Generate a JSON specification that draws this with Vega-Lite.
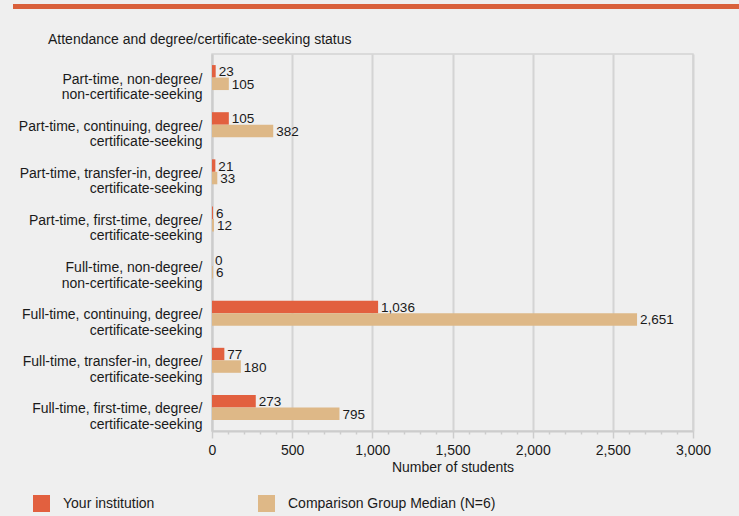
{
  "$schema": "https://vega.github.io/schema/vega-lite/v6.json",
  "background": "#efefef",
  "padding": {"left": 13, "top": 4, "right": 0, "bottom": 4},
  "width": 481,
  "height": 377,
  "config": {
    "font": "Liberation Sans",
    "legend": {"gradientHorizontalMaxLength": 800, "gradientHorizontalMinLength": 10}
  },
  "view": {"stroke": "#d4d4d4", "strokeWidth": 1.5, "fill": "#efefef"},
  "title": {
    "text": "Attendance and degree/certificate-seeking status",
    "anchor": "start",
    "frame": "bounds",
    "dx": 35,
    "fontSize": 14,
    "fontWeight": "normal",
    "color": "#1a1a1a",
    "offset": -43
  },
  "data": {
    "values": [
      {"status": "Part-time, non-degree/ non-certificate-seeking", "series": "Your institution", "value": 23},
      {"status": "Part-time, non-degree/ non-certificate-seeking", "series": "Comparison Group Median (N=6)", "value": 105},
      {"status": "Part-time, continuing, degree/ certificate-seeking", "series": "Your institution", "value": 105},
      {"status": "Part-time, continuing, degree/ certificate-seeking", "series": "Comparison Group Median (N=6)", "value": 382},
      {"status": "Part-time, transfer-in, degree/ certificate-seeking", "series": "Your institution", "value": 21},
      {"status": "Part-time, transfer-in, degree/ certificate-seeking", "series": "Comparison Group Median (N=6)", "value": 33},
      {"status": "Part-time, first-time, degree/ certificate-seeking", "series": "Your institution", "value": 6},
      {"status": "Part-time, first-time, degree/ certificate-seeking", "series": "Comparison Group Median (N=6)", "value": 12},
      {"status": "Full-time, non-degree/ non-certificate-seeking", "series": "Your institution", "value": 0},
      {"status": "Full-time, non-degree/ non-certificate-seeking", "series": "Comparison Group Median (N=6)", "value": 6},
      {"status": "Full-time, continuing, degree/ certificate-seeking", "series": "Your institution", "value": 1036},
      {"status": "Full-time, continuing, degree/ certificate-seeking", "series": "Comparison Group Median (N=6)", "value": 2651},
      {"status": "Full-time, transfer-in, degree/ certificate-seeking", "series": "Your institution", "value": 77},
      {"status": "Full-time, transfer-in, degree/ certificate-seeking", "series": "Comparison Group Median (N=6)", "value": 180},
      {"status": "Full-time, first-time, degree/ certificate-seeking", "series": "Your institution", "value": 273},
      {"status": "Full-time, first-time, degree/ certificate-seeking", "series": "Comparison Group Median (N=6)", "value": 795}
    ]
  },
  "encoding": {
    "y": {
      "field": "status",
      "type": "nominal",
      "sort": [
        "Part-time, non-degree/ non-certificate-seeking",
        "Part-time, continuing, degree/ certificate-seeking",
        "Part-time, transfer-in, degree/ certificate-seeking",
        "Part-time, first-time, degree/ certificate-seeking",
        "Full-time, non-degree/ non-certificate-seeking",
        "Full-time, continuing, degree/ certificate-seeking",
        "Full-time, transfer-in, degree/ certificate-seeking",
        "Full-time, first-time, degree/ certificate-seeking"
      ],
      "scale": {"paddingInner": 0.47, "paddingOuter": 0.235},
      "axis": {
        "title": null,
        "labelExpr": "[slice(datum.label, 0, indexof(datum.label, '/') + 1), slice(datum.label, indexof(datum.label, '/') + 2)]",
        "labelFontSize": 14,
        "labelLineHeight": 15.5,
        "labelPadding": 10,
        "ticks": false,
        "tickSize": 0,
        "domainColor": "#cccccc",
        "domainWidth": 2,
        "labelColor": "#1a1a1a",
        "labelLimit": 300,
        "labelOffset": 2
      }
    },
    "x": {
      "field": "value",
      "type": "quantitative",
      "scale": {"domain": [0, 3000]},
      "axis": {
        "title": "Number of students",
        "titleFontSize": 14,
        "titleFontWeight": "normal",
        "titleColor": "#1a1a1a",
        "titlePadding": 3,
        "values": [0, 100, 200, 300, 400, 500, 600, 700, 800, 900, 1000, 1100, 1200, 1300, 1400, 1500, 1600, 1700, 1800, 1900, 2000, 2100, 2200, 2300, 2400, 2500, 2600, 2700, 2800, 2900, 3000],
        "labelExpr": "datum.value % 500 === 0 ? format(datum.value, ',') : ''",
        "labelFontSize": 14,
        "labelColor": "#1a1a1a",
        "labelPadding": 5,
        "labelOverlap": false,
        "labelFlush": false,
        "tickSize": {"condition": {"test": "datum.value % 500 === 0", "value": 7}, "value": 3},
        "tickColor": "#cccccc",
        "tickWidth": 1.5,
        "gridColor": "#d4d4d4",
        "gridWidth": 2,
        "gridOpacity": {"condition": {"test": "datum.value % 500 === 0", "value": 1}, "value": 0},
        "domainColor": "#cccccc",
        "domainWidth": 2
      }
    }
  },
  "layer": [
    {
      "mark": {"type": "bar"},
      "encoding": {
        "yOffset": {
          "field": "series",
          "type": "nominal",
          "sort": ["Your institution", "Comparison Group Median (N=6)"],
          "scale": {"paddingInner": 0, "paddingOuter": 0}
        },
        "color": {
          "field": "series",
          "type": "nominal",
          "scale": {
            "domain": ["Your institution", "Comparison Group Median (N=6)"],
            "range": ["#E2603F", "#DEB887"]
          },
          "legend": {
            "title": null,
            "orient": "none",
            "legendX": -179,
            "legendY": 441,
            "direction": "horizontal",
            "columns": 2,
            "symbolType": "square",
            "symbolSize": 289,
            "symbolStrokeWidth": 0,
            "symbolOpacity": 1,
            "labelFontSize": 14,
            "labelColor": "#1a1a1a",
            "labelLimit": 300,
            "labelOffset": 13,
            "columnPadding": 103,
            "padding": 0
          }
        }
      }
    },
    {
      "mark": {"type": "text", "align": "left", "baseline": "middle", "dx": 3, "dy": 1, "fontSize": 13.5, "color": "#1a1a1a"},
      "encoding": {
        "yOffset": {
          "field": "series",
          "type": "nominal",
          "sort": ["Your institution", "Comparison Group Median (N=6)"],
          "scale": {"paddingInner": 0, "paddingOuter": 0}
        },
        "text": {"field": "value", "type": "quantitative", "format": ","}
      }
    },
    {
      "mark": {"type": "point", "filled": true, "size": 0, "strokeWidth": 0, "opacity": 1},
      "encoding": {
        "fill": {
          "field": "value",
          "type": "quantitative",
          "scale": {"range": ["#D9603B", "#D9603B"]},
          "legend": {
            "title": null,
            "orient": "none",
            "legendX": -199,
            "legendY": -50,
            "direction": "horizontal",
            "gradientLength": 726,
            "gradientThickness": 5,
            "gradientStrokeWidth": 0,
            "gradientOpacity": 1,
            "labelExpr": "''",
            "labelOpacity": 0,
            "labelFontSize": 1,
            "labelOffset": 0,
            "padding": 0
          }
        }
      }
    }
  ]
}
